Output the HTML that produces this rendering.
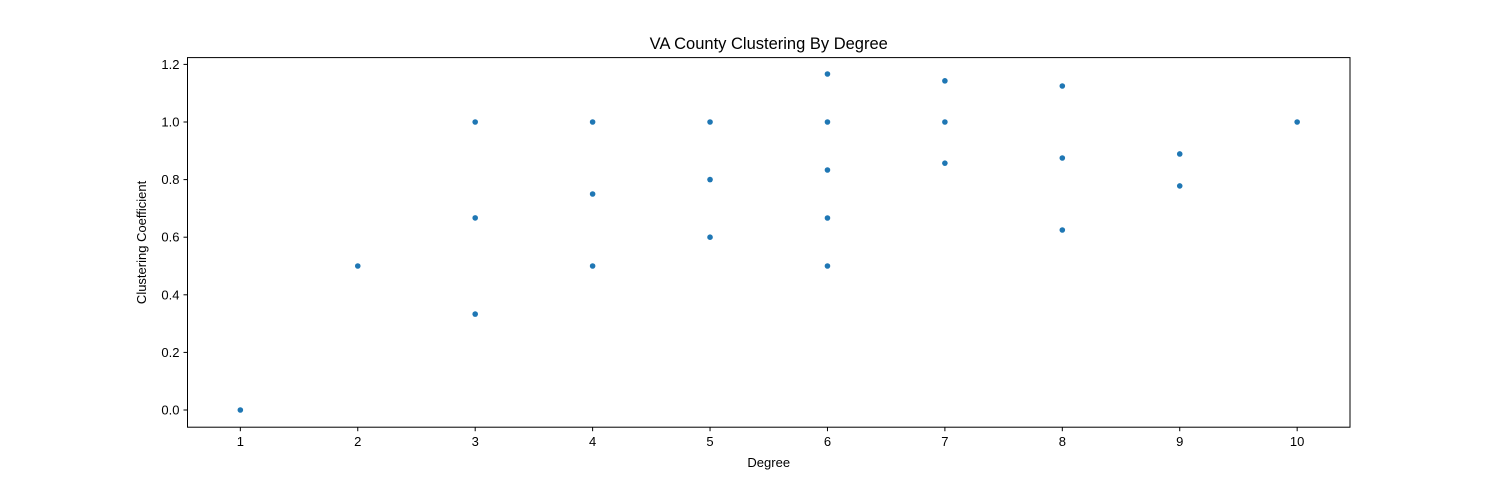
<!DOCTYPE html>
<html><head><meta charset="utf-8"><style>
body{margin:0;background:#fff;}
svg text{font-family:"Liberation Sans","DejaVu Sans",sans-serif;fill:#000;}
</style></head><body>
<svg id="chart" width="1500" height="480" xmlns="http://www.w3.org/2000/svg">
<rect width="1500" height="480" fill="#fff"/>
<text x="768.75" y="49" font-size="16.5" text-anchor="middle">VA County Clustering By Degree</text>
<text x="768.75" y="467" font-size="13" text-anchor="middle">Degree</text>
<text x="146" y="242.4" font-size="13" text-anchor="middle" transform="rotate(-90 146 242.4)">Clustering Coefficient</text>
<g id="ticks"></g>
<g id="points"></g>
<rect x="187.5" y="57.6" width="1162.5" height="369.6" fill="none" stroke="#000" stroke-width="1"/>
</svg>
<script>
const degrees = [1,2,3,3,3,4,4,4,5,5,5,6,6,6,6,6,7,7,7,8,8,8,9,9,10];
const clustering = [0,0.5,1,0.667,0.333,1,0.75,0.5,1,0.8,0.6,1.1667,1,0.8333,0.6667,0.5,1.1429,1,0.857,1.125,0.875,0.625,0.889,0.778,1];
const xTicks = [1,2,3,4,5,6,7,8,9,10];
const yTicks = [0,0.2,0.4,0.6,0.8,1.0,1.2];
const yTickLabels = ["0.0","0.2","0.4","0.6","0.8","1.0","1.2"];

const L=187.5,R=1350,T=57.6,B=427.2;
const xMin=0.55,xMax=10.45,yMin=-0.0597,yMax=1.2236;
const sx=v=>L+(v-xMin)/(xMax-xMin)*(R-L);
const sy=v=>B-(v-yMin)/(yMax-yMin)*(B-T);
const NS="http://www.w3.org/2000/svg";
const tg=document.getElementById('ticks');
xTicks.forEach(t=>{
  const l=document.createElementNS(NS,'line');
  l.setAttribute('x1',sx(t));l.setAttribute('x2',sx(t));l.setAttribute('y1',B);l.setAttribute('y2',B+4);l.setAttribute('stroke','#000');
  
  
  tg.appendChild(l);
  const tx=document.createElementNS(NS,'text');
  tx.setAttribute('x',sx(t));tx.setAttribute('y',B+19);tx.setAttribute('font-size','13');tx.setAttribute('text-anchor','middle');
  tx.textContent=t;
  
  
  tg.appendChild(tx);
});
yTicks.forEach((t,i)=>{
  const l=document.createElementNS(NS,'line');
  l.setAttribute('x1',L-4);l.setAttribute('x2',L);l.setAttribute('y1',sy(t));l.setAttribute('y2',sy(t));l.setAttribute('stroke','#000');
  
  
  tg.appendChild(l);
  const tx=document.createElementNS(NS,'text');
  tx.setAttribute('x',L-8);tx.setAttribute('y',sy(t)+4.5);tx.setAttribute('font-size','13');tx.setAttribute('text-anchor','end');
  tx.textContent=yTickLabels[i];
  
  
  tg.appendChild(tx);
});
const pg=document.getElementById('points');
degrees.forEach((d,i)=>{
  const c=document.createElementNS(NS,'circle');
  c.setAttribute('cx',sx(d));c.setAttribute('cy',sy(clustering[i]));c.setAttribute('r','2.8');c.setAttribute('fill','#1f77b4');
  
  
  pg.appendChild(c);
});
</script>
</body></html>
